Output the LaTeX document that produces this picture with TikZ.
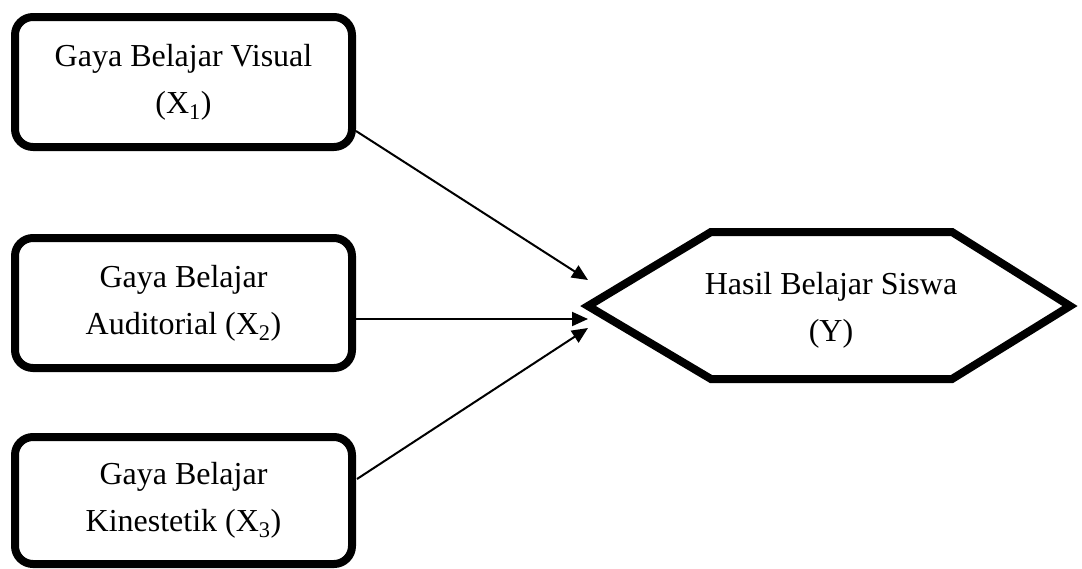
\documentclass[tikz,border=0pt]{standalone}
\usepackage{fontspec}
\setmainfont{Liberation Serif}
\usetikzlibrary{arrows.meta,calc}
\begin{document}
\begin{tikzpicture}[x=1pt,y=-1pt,
  varbox/.style={draw,line width=8pt,rounded corners=18pt,minimum width=337pt,
    minimum height=130pt,align=center,inner sep=0pt,
    font=\fontsize{32}{47}\selectfont},
  hexline/.style={draw,line width=8pt,line join=miter},
  conn/.style={line width=2pt,-{Triangle[length=16pt,width=14pt]}},
  lbl/.style={align=center,inner sep=0pt,font=\fontsize{32}{47}\selectfont}]
\useasboundingbox (0,0) rectangle (1082,568);
\node[varbox] (b1) at (183.5,82) {Gaya Belajar Visual\\(X\textsubscript{1})};
\node[varbox] (b2) at (183.5,303) {Gaya Belajar\\Auditorial (X\textsubscript{2})};
\node[varbox,minimum height=127pt] (b3) at (183.5,500.5) {Gaya Belajar\\Kinestetik (X\textsubscript{3})};
\coordinate (hl) at (588,306);
\coordinate (htl) at (711,232);
\coordinate (htr) at (952,232);
\coordinate (hr) at (1070,306);
\coordinate (hbr) at (952,379);
\coordinate (hbl) at (711,379);
\path[hexline] (hl) -- (htl) -- (htr) -- (hr) -- (hbr) -- (hbl) -- cycle;
\node[lbl] (y) at (831,310) {Hasil Belajar Siswa\\(Y)};
\coordinate (s1) at (356,131);
\coordinate (s2) at (356,319);
\coordinate (s3) at (357,479);
\coordinate (e1) at (588,280);
\coordinate (e2) at (588,319);
\coordinate (e3) at (588,328);
\draw[conn] (s1) -- (e1);
\draw[conn] (s2) -- (e2);
\draw[conn] (s3) -- (e3);
\end{tikzpicture}
\end{document}
